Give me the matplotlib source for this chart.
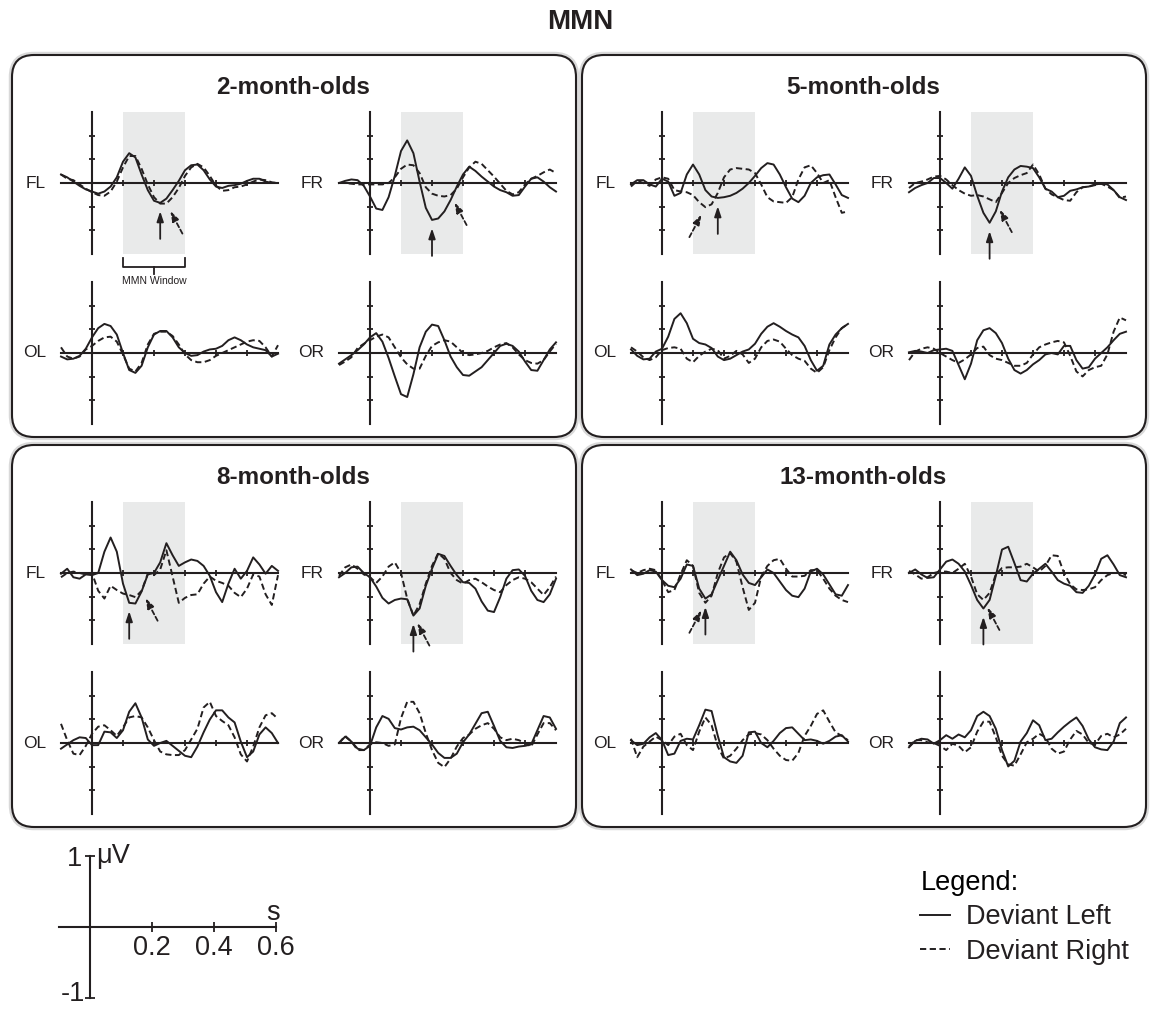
import numpy as np
import matplotlib.pyplot as plt
from matplotlib.patches import FancyBboxPatch
from matplotlib.lines import Line2D

plt.rcParams['font.family'] = ['Liberation Sans', 'DejaVu Sans']

W, H = 1150, 1009
PX_PER_S = 310     # horizontal scale of every ERP plot
PX_PER_UV = 71     # vertical scale of every ERP plot
INK = '#231f20'
SHADE = '#e9eaea'

time_s = [-0.10, -0.08, -0.06, -0.04, -0.02, 0.00, 0.02, 0.04, 0.06, 0.08,
          0.10, 0.12, 0.14, 0.16, 0.18, 0.20, 0.22, 0.24, 0.26, 0.28,
          0.30, 0.32, 0.34, 0.36, 0.38, 0.40, 0.42, 0.44, 0.46, 0.48,
          0.50, 0.52, 0.54, 0.56, 0.58, 0.60]
groups = ['2-month-olds', '5-month-olds', '8-month-olds', '13-month-olds']
channels = ['FL', 'FR', 'OL', 'OR']
mmn_window = [0.1, 0.3]
x_ticks = [0.1, 0.2, 0.3, 0.4, 0.5]
y_ticks = [-2 / 3, -1 / 3, 1 / 3, 2 / 3]
scale_x_ticks = [0.2, 0.4, 0.6]
scale_y_ticks = [-1, 1]

# ---- ERP amplitudes (uV), solid = deviant left, dashed = deviant right ----
m2_fl_left = [0.12, 0.08, 0.02, -0.04, -0.09, -0.12, -0.15, -0.12, -0.05, 0.08, 0.30, 0.42, 0.36, 0.12, -0.10, -0.25, -0.28, -0.22, -0.10, 0.03, 0.18, 0.25, 0.26, 0.18, 0.05, -0.05, -0.07, -0.04, -0.03, -0.01, 0.03, 0.06, 0.06, 0.02, 0.00, 0.00]
m2_fl_right = [0.12, 0.06, 0.04, -0.02, -0.08, -0.13, -0.17, -0.18, -0.12, 0.02, 0.22, 0.38, 0.38, 0.20, -0.02, -0.20, -0.29, -0.29, -0.20, -0.07, 0.10, 0.22, 0.27, 0.22, 0.10, -0.04, -0.11, -0.10, -0.06, -0.05, -0.02, 0.02, 0.05, 0.04, 0.01, 0.00]
m2_fr_left = [0.00, 0.03, 0.05, 0.04, -0.04, -0.19, -0.36, -0.38, -0.20, 0.10, 0.45, 0.60, 0.42, 0.02, -0.35, -0.52, -0.50, -0.40, -0.24, -0.05, 0.12, 0.23, 0.17, 0.09, 0.02, -0.05, -0.10, -0.13, -0.18, -0.17, -0.05, 0.06, 0.08, 0.02, -0.06, -0.12]
m2_fr_right = [0.00, 0.00, -0.01, -0.02, -0.02, -0.02, -0.02, -0.02, 0.00, 0.08, 0.20, 0.26, 0.25, 0.14, -0.06, -0.15, -0.18, -0.19, -0.17, -0.08, 0.08, 0.22, 0.30, 0.27, 0.18, 0.09, -0.01, -0.11, -0.16, -0.13, -0.02, 0.06, 0.10, 0.15, 0.19, 0.14]
m2_ol_left = [-0.05, -0.09, -0.08, -0.04, 0.06, 0.22, 0.35, 0.41, 0.38, 0.26, 0.00, -0.24, -0.28, -0.18, 0.08, 0.26, 0.31, 0.31, 0.22, 0.08, 0.00, -0.04, -0.03, 0.02, 0.05, 0.06, 0.10, 0.18, 0.22, 0.18, 0.12, 0.08, 0.06, 0.04, -0.05, -0.01]
m2_ol_right = [0.08, -0.05, -0.08, -0.05, 0.05, 0.10, 0.17, 0.22, 0.23, 0.16, -0.02, -0.22, -0.26, -0.14, 0.12, 0.27, 0.30, 0.30, 0.24, 0.12, -0.02, -0.10, -0.13, -0.13, -0.10, -0.04, 0.00, 0.04, 0.08, 0.12, 0.16, 0.18, 0.17, 0.08, -0.05, 0.11]
m2_or_left = [-0.15, -0.09, -0.03, 0.04, 0.12, 0.22, 0.28, 0.16, -0.07, -0.33, -0.58, -0.62, -0.30, 0.08, 0.30, 0.40, 0.38, 0.18, -0.05, -0.20, -0.31, -0.32, -0.26, -0.20, -0.10, 0.00, 0.10, 0.13, 0.10, 0.02, -0.12, -0.24, -0.25, -0.10, 0.05, 0.15]
m2_or_right = [-0.17, -0.12, -0.06, 0.07, 0.13, 0.18, 0.23, 0.26, 0.22, 0.08, -0.06, -0.16, -0.22, -0.22, -0.04, 0.10, 0.15, 0.18, 0.16, 0.08, 0.00, -0.03, -0.02, 0.00, 0.03, 0.08, 0.12, 0.14, 0.08, -0.02, -0.10, -0.14, -0.15, -0.10, 0.02, 0.13]

m5_fl_left = [-0.02, 0.04, 0.04, -0.02, -0.05, 0.06, 0.02, -0.18, -0.14, 0.12, 0.26, 0.12, -0.10, -0.19, -0.21, -0.20, -0.18, -0.14, -0.08, 0.00, 0.10, 0.21, 0.28, 0.26, 0.12, -0.06, -0.22, -0.27, -0.18, 0.00, 0.08, 0.11, 0.12, -0.02, -0.17, -0.21]
m5_fl_right = [-0.05, 0.03, 0.00, -0.04, 0.05, 0.08, 0.06, -0.10, -0.12, -0.13, -0.17, -0.27, -0.34, -0.30, -0.14, 0.08, 0.19, 0.21, 0.20, 0.19, 0.14, -0.02, -0.20, -0.26, -0.27, -0.28, -0.20, 0.05, 0.22, 0.25, 0.14, 0.00, 0.04, -0.20, -0.42, -0.40]
m5_fr_left = [-0.13, -0.07, -0.03, 0.00, 0.07, 0.07, 0.00, -0.08, 0.06, 0.22, 0.10, -0.18, -0.42, -0.56, -0.40, -0.12, 0.08, 0.19, 0.24, 0.23, 0.21, 0.08, -0.08, -0.12, -0.20, -0.18, -0.11, -0.09, -0.06, -0.05, -0.02, -0.01, -0.02, -0.10, -0.20, -0.24]
m5_fr_right = [-0.07, 0.00, 0.02, 0.05, 0.09, 0.10, 0.05, -0.03, -0.10, -0.15, -0.18, -0.17, -0.19, -0.23, -0.27, -0.14, 0.00, 0.07, 0.11, 0.14, 0.26, 0.12, -0.08, -0.16, -0.20, -0.24, -0.25, -0.13, -0.06, -0.05, -0.03, -0.01, -0.05, -0.10, -0.21, -0.19]
m5_ol_left = [0.05, -0.04, -0.09, -0.08, 0.02, 0.06, 0.23, 0.48, 0.56, 0.42, 0.20, 0.14, 0.12, 0.07, -0.05, -0.10, -0.08, -0.03, 0.02, 0.05, 0.13, 0.27, 0.37, 0.42, 0.37, 0.31, 0.26, 0.22, 0.10, -0.10, -0.25, -0.18, 0.12, 0.26, 0.35, 0.41]
m5_ol_right = [0.08, 0.02, -0.06, -0.10, -0.06, 0.04, 0.07, 0.08, 0.06, -0.08, -0.13, -0.04, 0.02, 0.06, 0.04, -0.08, -0.04, 0.03, -0.02, -0.14, -0.08, 0.08, 0.17, 0.19, 0.16, 0.06, -0.03, -0.08, -0.11, -0.22, -0.28, -0.20, 0.04, 0.22, 0.35, 0.41]
m5_or_left = [0.01, 0.03, 0.02, 0.00, 0.04, 0.05, 0.06, 0.03, -0.17, -0.37, -0.15, 0.18, 0.32, 0.35, 0.28, 0.14, -0.08, -0.24, -0.29, -0.24, -0.16, -0.10, -0.02, 0.00, -0.02, 0.10, 0.10, -0.10, -0.22, -0.20, -0.08, 0.00, 0.08, 0.18, 0.27, 0.30]
m5_or_right = [-0.10, 0.02, 0.06, 0.08, 0.06, 0.00, -0.05, -0.10, -0.14, -0.09, -0.02, 0.07, 0.09, -0.03, -0.08, -0.10, -0.14, -0.18, -0.18, -0.14, -0.02, 0.08, 0.12, 0.15, 0.17, 0.15, -0.04, -0.26, -0.33, -0.24, -0.20, -0.18, -0.02, 0.30, 0.50, 0.46]

m8_fl_left = [-0.01, 0.06, -0.06, -0.08, -0.02, -0.03, 0.00, 0.30, 0.50, 0.30, -0.15, -0.42, -0.43, -0.26, -0.02, 0.00, 0.15, 0.42, 0.25, 0.10, 0.15, 0.19, 0.17, 0.10, -0.04, -0.27, -0.41, -0.15, 0.06, -0.08, 0.03, 0.22, 0.12, -0.01, 0.10, 0.03]
m8_fl_right = [-0.06, 0.00, 0.02, 0.00, -0.02, 0.00, -0.25, -0.36, -0.18, -0.24, -0.29, -0.31, -0.34, -0.25, -0.01, -0.03, 0.05, 0.32, -0.05, -0.42, -0.35, -0.31, -0.30, -0.15, -0.05, -0.11, -0.14, -0.18, -0.28, -0.34, -0.22, -0.02, -0.05, -0.30, -0.45, -0.03]
m8_fr_left = [-0.06, 0.00, 0.08, 0.09, 0.00, -0.06, -0.19, -0.35, -0.43, -0.38, -0.36, -0.37, -0.60, -0.50, -0.18, 0.06, 0.27, 0.24, 0.10, -0.03, -0.13, -0.14, -0.22, -0.40, -0.53, -0.55, -0.34, -0.08, 0.04, 0.05, -0.04, -0.25, -0.38, -0.41, -0.30, -0.08]
m8_fr_right = [-0.04, 0.08, 0.12, 0.06, -0.02, -0.06, -0.14, -0.05, 0.09, 0.15, 0.00, -0.36, -0.60, -0.44, -0.15, 0.10, 0.28, 0.20, 0.00, -0.10, -0.15, -0.10, -0.08, -0.13, -0.19, -0.24, -0.27, -0.17, -0.10, -0.06, -0.08, -0.13, -0.22, -0.31, -0.20, -0.05]
m8_ol_left = [-0.08, -0.02, 0.04, 0.08, 0.07, -0.03, -0.03, 0.16, 0.15, 0.07, 0.18, 0.44, 0.56, 0.36, 0.05, -0.04, 0.00, 0.03, -0.04, -0.11, -0.18, -0.20, -0.05, 0.15, 0.33, 0.46, 0.46, 0.36, 0.29, 0.02, -0.20, -0.12, 0.12, 0.22, 0.14, 0.00]
m8_ol_right = [0.27, 0.04, -0.15, -0.17, -0.04, 0.13, 0.23, 0.25, 0.18, 0.10, 0.22, 0.36, 0.38, 0.36, 0.22, 0.04, -0.12, -0.16, -0.17, -0.17, -0.10, 0.05, 0.20, 0.50, 0.58, 0.38, 0.31, 0.25, 0.08, -0.16, -0.26, -0.05, 0.22, 0.39, 0.42, 0.34]
m8_or_left = [0.00, 0.09, 0.02, -0.08, -0.10, -0.04, 0.22, 0.38, 0.34, 0.21, 0.19, 0.22, 0.23, 0.18, 0.08, -0.02, -0.14, -0.21, -0.21, -0.15, 0.01, 0.12, 0.27, 0.42, 0.44, 0.24, 0.03, -0.06, -0.07, -0.05, -0.04, -0.02, 0.18, 0.38, 0.36, 0.20]
m8_or_right = [0.00, 0.10, 0.02, -0.10, -0.10, -0.02, 0.01, 0.00, -0.04, -0.02, 0.35, 0.58, 0.58, 0.42, 0.14, -0.10, -0.28, -0.34, -0.22, -0.05, 0.07, 0.12, 0.20, 0.25, 0.28, 0.20, 0.08, 0.04, 0.06, 0.04, 0.00, -0.05, 0.12, 0.28, 0.28, 0.18]

m13_fl_left = [0.05, -0.03, -0.01, 0.04, 0.02, -0.10, -0.18, -0.20, -0.08, 0.12, 0.10, -0.22, -0.36, -0.30, -0.10, 0.10, 0.30, 0.18, -0.02, -0.14, -0.17, -0.06, 0.05, 0.00, -0.12, -0.24, -0.32, -0.34, -0.22, 0.02, 0.06, -0.02, -0.16, -0.30, -0.32, -0.17]
m13_fl_right = [0.04, 0.00, 0.04, 0.06, 0.04, -0.10, -0.27, -0.24, -0.02, 0.18, 0.10, -0.28, -0.42, -0.32, 0.00, 0.22, 0.28, 0.16, -0.20, -0.52, -0.42, -0.05, 0.10, 0.18, 0.20, 0.06, -0.05, -0.05, -0.04, 0.04, 0.04, -0.08, -0.22, -0.32, -0.38, -0.41]
m13_fr_left = [0.00, 0.05, -0.02, -0.07, -0.06, 0.05, 0.16, 0.19, 0.13, 0.02, -0.17, -0.38, -0.50, -0.38, -0.04, 0.33, 0.37, 0.14, -0.10, -0.12, -0.01, 0.06, 0.13, 0.02, -0.10, -0.15, -0.18, -0.27, -0.28, -0.18, -0.02, 0.20, 0.25, 0.12, -0.03, -0.06]
m13_fr_right = [0.03, -0.02, -0.08, -0.06, 0.00, 0.02, 0.02, 0.00, 0.06, 0.13, -0.05, -0.30, -0.38, -0.28, -0.02, 0.07, 0.08, 0.08, 0.09, 0.13, 0.08, 0.02, 0.10, 0.25, 0.24, 0.00, -0.16, -0.23, -0.24, -0.23, -0.20, -0.10, -0.03, 0.00, 0.00, -0.03]
m13_ol_left = [0.04, -0.03, -0.01, 0.08, 0.14, 0.04, -0.17, -0.15, 0.03, 0.06, 0.05, 0.25, 0.47, 0.45, 0.10, -0.20, -0.26, -0.28, -0.18, 0.15, 0.16, 0.00, -0.06, 0.03, 0.14, 0.21, 0.22, 0.13, 0.04, 0.05, 0.03, -0.01, 0.03, 0.09, 0.11, 0.02]
m13_ol_right = [0.06, -0.20, -0.05, 0.02, 0.09, 0.04, -0.03, 0.09, 0.13, -0.03, -0.10, 0.16, 0.36, 0.25, -0.05, -0.22, -0.18, -0.08, 0.04, 0.12, 0.14, 0.12, 0.04, -0.08, -0.18, -0.24, -0.25, -0.14, 0.10, 0.24, 0.41, 0.46, 0.30, 0.15, 0.10, 0.04]
m13_or_left = [-0.06, 0.03, 0.06, 0.05, -0.01, 0.04, 0.11, 0.06, 0.12, 0.08, 0.18, 0.38, 0.44, 0.38, 0.20, -0.10, -0.33, -0.25, 0.02, 0.14, 0.32, 0.25, 0.04, 0.06, 0.15, 0.23, 0.30, 0.36, 0.24, 0.05, -0.06, -0.09, -0.10, 0.02, 0.28, 0.36]
m13_or_right = [-0.05, 0.04, 0.04, 0.01, 0.00, -0.04, -0.10, -0.01, -0.04, -0.13, -0.06, 0.16, 0.30, 0.30, 0.08, -0.18, -0.30, -0.32, -0.16, 0.01, 0.06, 0.13, 0.08, -0.08, -0.15, -0.12, 0.05, 0.17, 0.12, 0.00, -0.02, 0.10, 0.13, 0.08, 0.12, 0.20]

# MMN peak latencies (s) marked by arrows, one value per age group
peak_fl_left = [0.22, 0.18, 0.12, 0.14]
peak_fl_right = [0.24, 0.14, 0.16, 0.14]
peak_fr_left = [0.20, 0.16, 0.14, 0.14]
peak_fr_right = [0.26, 0.18, 0.14, 0.14]

waves = {
    '2-month-olds': {'FL': (m2_fl_left, m2_fl_right), 'FR': (m2_fr_left, m2_fr_right),
                     'OL': (m2_ol_left, m2_ol_right), 'OR': (m2_or_left, m2_or_right)},
    '5-month-olds': {'FL': (m5_fl_left, m5_fl_right), 'FR': (m5_fr_left, m5_fr_right),
                     'OL': (m5_ol_left, m5_ol_right), 'OR': (m5_or_left, m5_or_right)},
    '8-month-olds': {'FL': (m8_fl_left, m8_fl_right), 'FR': (m8_fr_left, m8_fr_right),
                     'OL': (m8_ol_left, m8_ol_right), 'OR': (m8_or_left, m8_or_right)},
    '13-month-olds': {'FL': (m13_fl_left, m13_fl_right), 'FR': (m13_fr_left, m13_fr_right),
                      'OL': (m13_ol_left, m13_ol_right), 'OR': (m13_or_left, m13_or_right)},
}
peaks = {'FL': (peak_fl_left, peak_fl_right), 'FR': (peak_fr_left, peak_fr_right)}

# layout (pixels)
panel_offset = {'2-month-olds': (0, 0), '5-month-olds': (570, 0),
                '8-month-olds': (0, 390), '13-month-olds': (570, 390)}
channel_origin = {'FL': (92, 183), 'FR': (370, 183), 'OL': (92, 353), 'OR': (370, 353)}
# side the dashed arrow comes from
dashed_side = {'2-month-olds': (1, 1), '5-month-olds': (-1, 1),
               '8-month-olds': (1, 1), '13-month-olds': (-1, 1)}

DASH = (0, (3.2, 1.8))


def px_axes(fig, x0, y0):
    """axes whose data origin (t=0, 0 uV) sits at pixel (x0, y0)"""
    left = (x0 - 0.1 * PX_PER_S) / W
    bottom = 1 - (y0 + PX_PER_UV) / H
    ax = fig.add_axes([left, bottom, 0.7 * PX_PER_S / W, 2 * PX_PER_UV / H])
    ax.set_xlim(-0.1, 0.6)
    ax.set_ylim(-1, 1)
    ax.patch.set_visible(False)
    for s in ['top', 'right']:
        ax.spines[s].set_visible(False)
    for s in ['left', 'bottom']:
        ax.spines[s].set_position(('data', 0))
        ax.spines[s].set_linewidth(1.5)
        ax.spines[s].set_color(INK)
    ax.tick_params(direction='inout', length=5, width=1.3, color=INK,
                   labelbottom=False, labelleft=False)
    return ax


def mark_peak(ax, series, lat, dashed, side):
    i = int(np.argmin(np.abs(np.array(time_s) - lat)))
    if dashed:
        off, ls = (16 * side, -30), (0, (2.5, 1.5))
    else:
        off, ls = (0, -36), '-'
    ax.annotate('', xy=(time_s[i], series[i]), xytext=off, textcoords='offset pixels',
                annotation_clip=False,
                arrowprops=dict(arrowstyle='-|>,head_length=0.6,head_width=0.2',
                                color=INK, lw=1.3, ls=ls, shrinkA=0, shrinkB=6))


fig = plt.figure(figsize=(W / 100, H / 100), dpi=100)

bg = fig.add_axes([0, 0, 1, 1], zorder=-1)
bg.set_xlim(0, W)
bg.set_ylim(H, 0)
bg.axis('off')

bg.text(580, 22, 'MMN', ha='center', va='center', fontsize=20, weight='bold', color=INK)

for g in groups:
    dx, dy = panel_offset[g]
    halo = FancyBboxPatch((10.5 + dx, 53.5 + dy), 567, 385, boxstyle='round,pad=0,rounding_size=23.5',
                          fc='none', ec='#d9d9d9', lw=2.5)
    box = FancyBboxPatch((12 + dx, 55 + dy), 564, 382, boxstyle='round,pad=0,rounding_size=22',
                         fc='white', ec=INK, lw=1.5)
    bg.add_patch(halo)
    bg.add_patch(box)
    bg.text(293 + dx, 87 + dy, g, ha='center', va='center', fontsize=17.5,
            weight='bold', color=INK)

    for ch in channels:
        x0, y0 = channel_origin[ch]
        ax = px_axes(fig, x0 + dx, y0 + dy)
        ax.set_xticks(x_ticks)
        ax.set_yticks(y_ticks)
        left, right = waves[g][ch]
        ax.plot(time_s, left, color=INK, lw=1.4, clip_on=False, zorder=3,
                solid_joinstyle='round')
        ax.plot(time_s, right, color=INK, lw=1.4, ls=DASH, clip_on=False, zorder=3)
        ax.text(-0.148, 0, ch, ha='right', va='center', fontsize=12.5, color=INK)

        if ch in peaks:
            ax.axvspan(mmn_window[0], mmn_window[1], color=SHADE, zorder=0, lw=0)
            k = groups.index(g)
            mark_peak(ax, left, peaks[ch][0][k], False, 0)
            mark_peak(ax, right, peaks[ch][1][k], True,
                      dashed_side[g][channels.index(ch)])

        if g == groups[0] and ch == 'FL':
            w0, w1 = mmn_window
            mid = (w0 + w1) / 2
            ax.plot([w0, w0, w1, w1], [-1.06, -1.18, -1.18, -1.06], color=INK,
                    lw=1.3, clip_on=False)
            ax.plot([mid, mid], [-1.18, -1.28], color=INK, lw=1.3, clip_on=False)
            ax.text(mid, -1.38, 'MMN Window', ha='center', va='center',
                    fontsize=7.5, color=INK)

# scale bar
sb = px_axes(fig, 90, 927)
sb.set_xticks(scale_x_ticks, labels=[f'{v:.1f}' for v in scale_x_ticks])
sb.set_yticks(scale_y_ticks, labels=['', str(scale_y_ticks[1])])
sb.tick_params(labelbottom=True, labelleft=True, labelsize=19.5, labelcolor=INK,
               length=7, pad=2)
sb.text(-0.015, -1.04, str(scale_y_ticks[0]), ha='right', va='baseline',
        fontsize=19.5, color=INK)
sb.text(0.02, 1.0, 'μV', ha='left', va='center', fontsize=19.5, color=INK)
sb.text(0.59, 0.2, 's', ha='center', va='center', fontsize=19.5, color=INK)

handles = [Line2D([], [], color=INK, lw=1.4),
           Line2D([], [], color=INK, lw=1.4, ls=DASH)]
fig.legend(handles, ['Deviant Left', 'Deviant Right'], title='Legend:',
           loc='upper left', bbox_to_anchor=(896 / W, 1 - 846 / H), frameon=False,
           fontsize=19.5, title_fontsize=19.5, handlelength=1.1, handletextpad=0.6,
           labelspacing=0.3, alignment='left', labelcolor=INK)

fig.savefig('out.png', dpi=100)
